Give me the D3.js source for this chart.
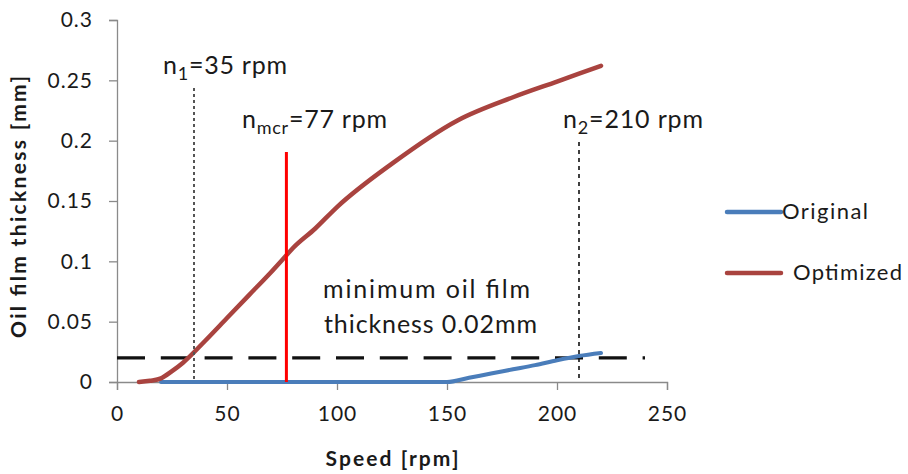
<!DOCTYPE html>
<html>
<head>
<meta charset="utf-8">
<script src="https://cdn.jsdelivr.net/npm/d3@7"></script>
<style>
body{margin:0;background:#fff;}
text{font-family:Lato,"Open Sans",sans-serif;fill:#1a1a1a;}
</style>
</head>
<body>
<svg id="chart" width="908" height="474"></svg>
<script>
// oil film thickness vs speed
var speedOpt=[10,15,20,25,30,40,50,60,70,77,80,90,100,125,155,180,200,220];
var thickOpt=[0,0.001,0.003,0.009,0.016,0.034,0.053,0.072,0.091,0.105,0.111,0.127,0.145,0.181,0.217,0.236,0.249,0.262];
var speedOrig=[20,50,100,150,160,170,180,190,200,210,220];
var thickOrig=[0,0,0,0,0.0035,0.007,0.0105,0.014,0.018,0.0215,0.024];
var xTicks=[0,50,100,150,200,250];
var yTicks=[0,0.05,0.1,0.15,0.2,0.25,0.3];
var yTickLabels=["0","0.05","0.1","0.15","0.2","0.25","0.3"];
var minFilm=0.02, minFilmEnd=240;
var nMarks=[{"sub":"1","v":35},{"sub":"mcr","v":77},{"sub":"2","v":210}];

var svg=d3.select("#chart");
var x=d3.scaleLinear().domain([0,250]).range([117,667]);
var y=d3.scaleLinear().domain([0,0.3]).range([382,20]);

// axes
var xAxis=svg.append("g").attr("transform","translate(0,"+y(0)+")")
    .call(d3.axisBottom(x).tickValues(xTicks).tickSizeOuter(0).tickSize(8).tickPadding(16));
var yAxis=svg.append("g").attr("transform","translate("+x(0)+",0)")
    .call(d3.axisLeft(y).tickValues(yTicks).tickFormat(function(d,i){return yTickLabels[i]}).tickSizeOuter(0).tickSize(8).tickPadding(16));
[xAxis,yAxis].forEach(function(a){
    a.select(".domain").attr("stroke","#8a8a8a").attr("stroke-width",1.3);
    a.selectAll(".tick line").attr("stroke","#8a8a8a").attr("stroke-width",1.3);
    a.selectAll(".tick text").style("font-size","21px").style("letter-spacing","1px").attr("fill","#262626");
});

// axis titles
svg.append("text").attr("x",(x(0)+x(250))/2).attr("y",466).attr("text-anchor","middle")
    .attr("textLength",133).attr("lengthAdjust","spacing")
    .style("font-size","21px").style("font-weight","bold").text("Speed [rpm]");
svg.append("text").attr("transform","translate(26,207) rotate(-90)").attr("text-anchor","middle")
    .attr("textLength",262).attr("lengthAdjust","spacing")
    .style("font-size","21px").style("font-weight","bold").text("Oil film thickness  [mm]");

// min film thickness line
svg.append("line").attr("x1",x(0)).attr("x2",x(minFilmEnd)).attr("y1",y(minFilm)).attr("y2",y(minFilm))
    .attr("stroke","#111").attr("stroke-width",3.2).attr("stroke-dasharray","28,15.8");

// series
var line=d3.line().x(function(d){return x(d[0])}).y(function(d){return y(d[1])}).curve(d3.curveMonotoneX);
svg.append("path").datum(d3.zip(speedOrig,thickOrig)).attr("d",line)
    .attr("fill","none").attr("stroke","#4a7dba").attr("stroke-width",4).attr("stroke-linecap","round");
svg.append("path").datum(d3.zip(speedOpt,thickOpt)).attr("d",line)
    .attr("fill","none").attr("stroke","#a9433f").attr("stroke-width",4.5).attr("stroke-linecap","round");

// speed markers
svg.append("line").attr("x1",x(nMarks[0].v)).attr("x2",x(nMarks[0].v)).attr("y1",88).attr("y2",y(0))
    .attr("stroke","#555").attr("stroke-width",2).attr("stroke-dasharray","3,3");
svg.append("line").attr("x1",x(nMarks[1].v)).attr("x2",x(nMarks[1].v)).attr("y1",152).attr("y2",y(0))
    .attr("stroke","#ff0000").attr("stroke-width",3);
svg.append("line").attr("x1",x(nMarks[2].v)).attr("x2",x(nMarks[2].v)).attr("y1",142).attr("y2",y(0))
    .attr("stroke","#111").attr("stroke-width",1.6).attr("stroke-dasharray","4,4");

function nLabel(m,tx,ty,len){
    var t=svg.append("text").attr("x",tx).attr("y",ty).style("font-size","25px")
        .attr("textLength",len).attr("lengthAdjust","spacing");
    t.append("tspan").text("n");
    t.append("tspan").attr("dy",6).style("font-size","18px").text(m.sub);
    t.append("tspan").attr("dy",-6).text("="+m.v+" rpm");
}
nLabel(nMarks[0],163,74,124);
nLabel(nMarks[1],242,128,145);
nLabel(nMarks[2],563,128,140);

svg.append("text").attr("x",323).attr("y",298).style("font-size","25px")
    .attr("textLength",207).attr("lengthAdjust","spacing").text("minimum oil film");
svg.append("text").attr("x",324).attr("y",333).style("font-size","25px")
    .attr("textLength",213).attr("lengthAdjust","spacing").text("thickness 0.02mm");

// legend
var legend=[{"name":"Original","c":"#4a7dba","y":212,"tx":782,"len":86},{"name":"Optimized","c":"#a9433f","y":273,"tx":793,"len":109}];
legend.forEach(function(l){
    svg.append("line").attr("x1",727).attr("x2",781).attr("y1",l.y).attr("y2",l.y)
        .attr("stroke",l.c).attr("stroke-width",4.5).attr("stroke-linecap","round");
    svg.append("text").attr("x",l.tx).attr("y",l.y+7).style("font-size","22px")
        .attr("textLength",l.len).attr("lengthAdjust","spacing").text(l.name);
});
</script>
</body>
</html>
